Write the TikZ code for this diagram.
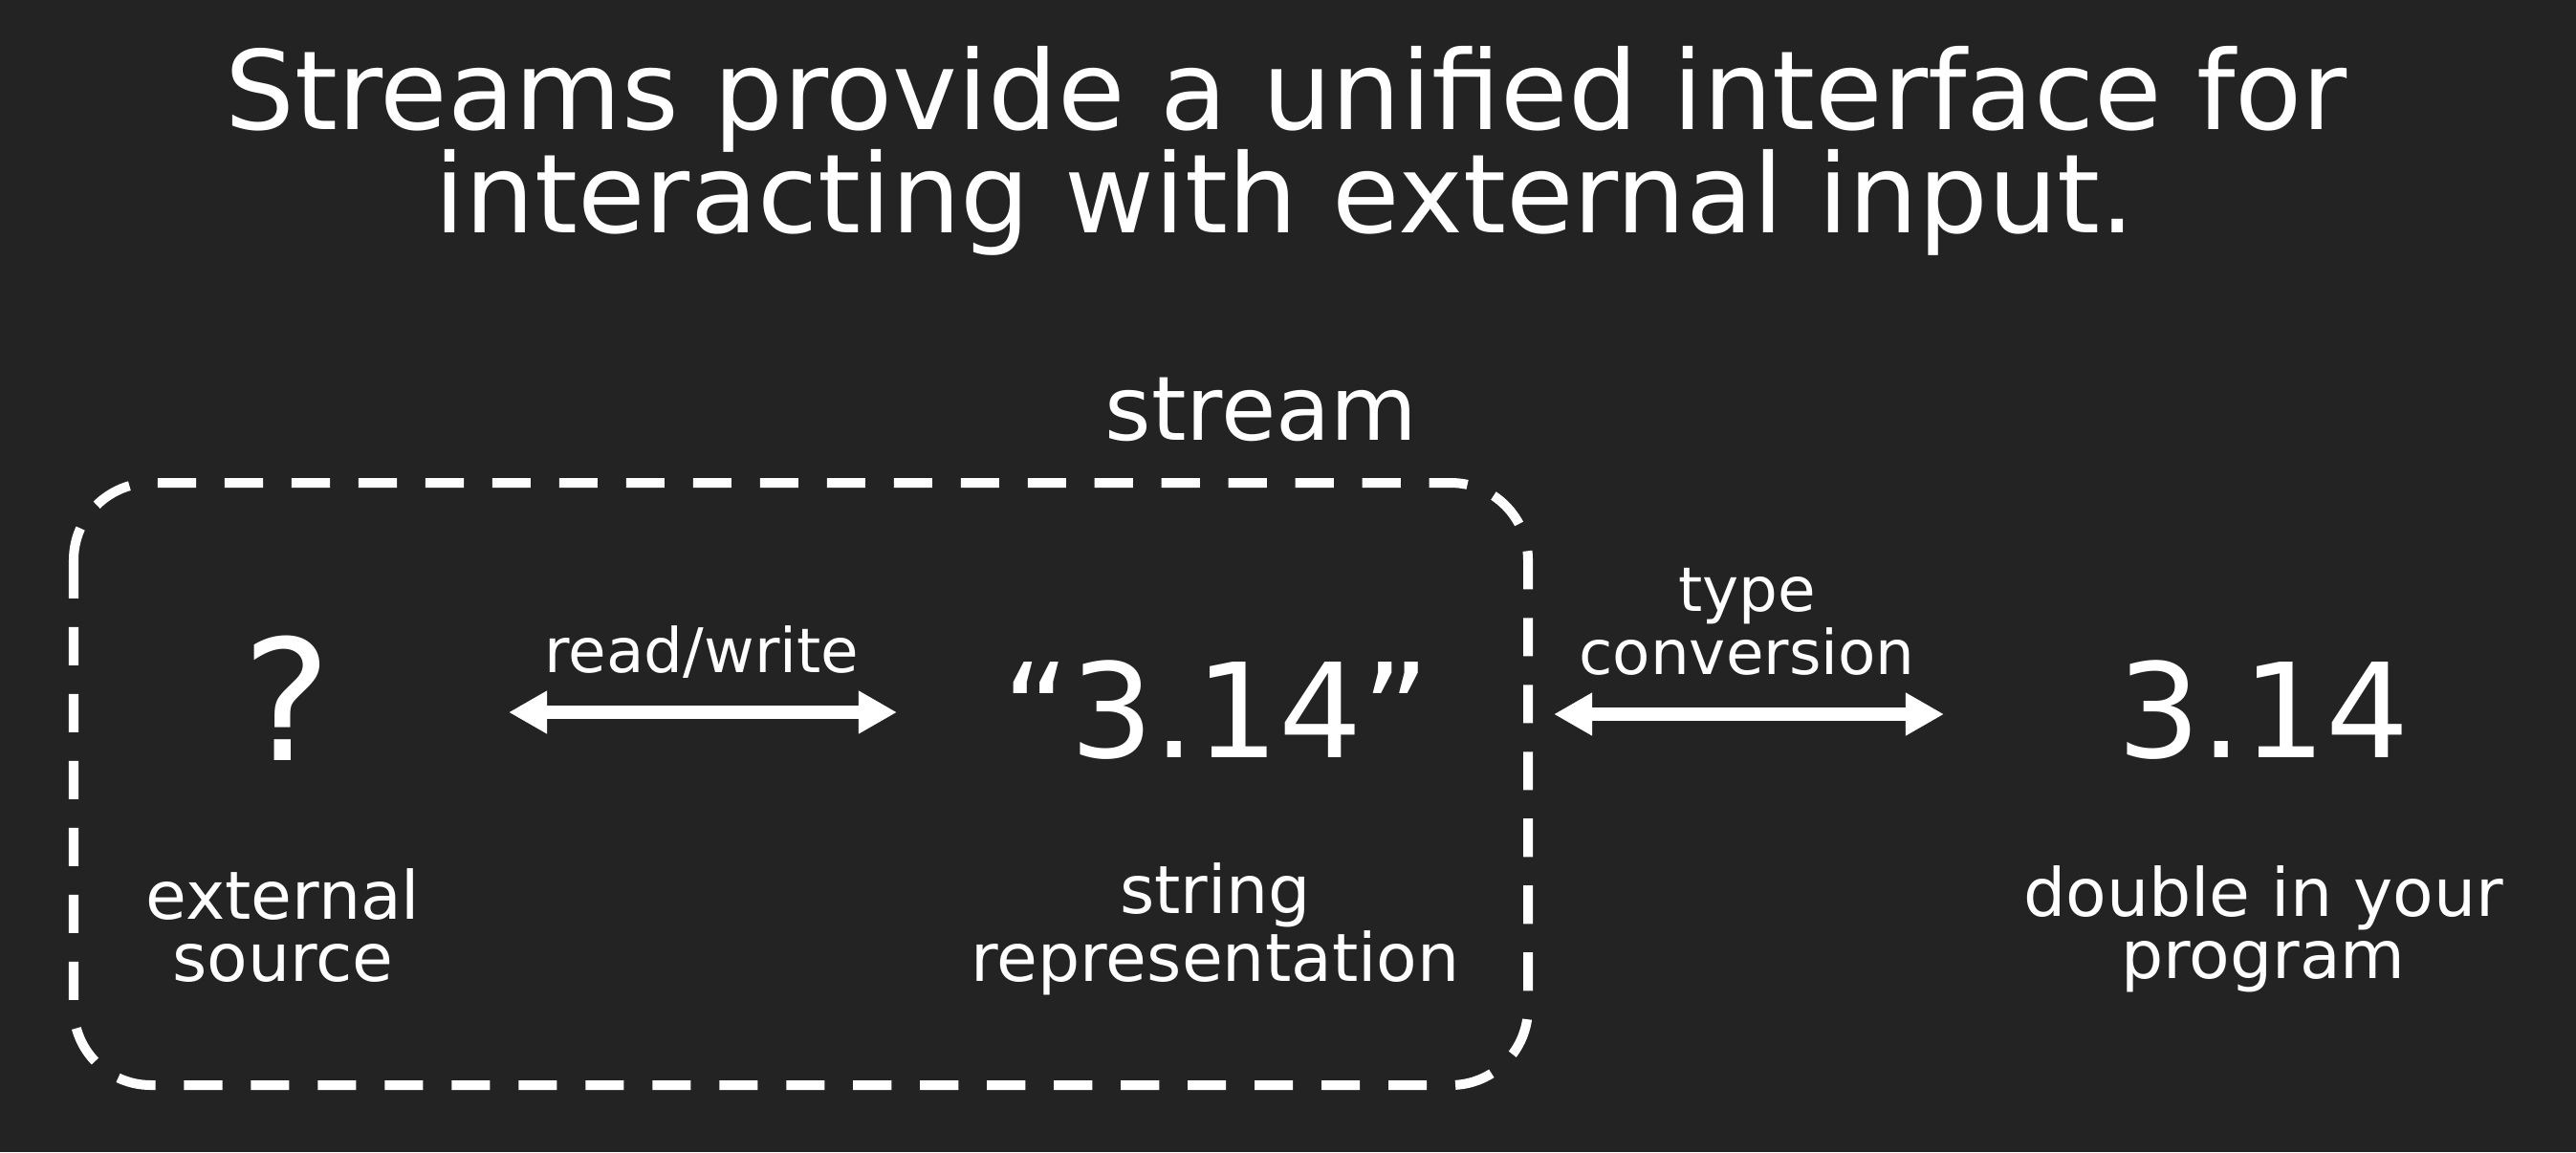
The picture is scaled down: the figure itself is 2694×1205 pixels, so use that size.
\documentclass[tikz,border=0pt]{standalone}
\usepackage{fontspec}
\setmainfont{DejaVu Sans}
\usetikzlibrary{arrows.meta}
\definecolor{bg}{HTML}{232323}
\begin{document}
\begin{tikzpicture}[x=0.01cm,y=-0.01cm,
  txt/.style={text=white,inner sep=0pt,align=center},
  title/.style={txt,anchor=base,font=\fontsize{32.6}{36}\selectfont},
  big/.style={txt,anchor=base,font=\fontsize{39}{44}\selectfont},
  caption/.style={txt,font=\fontsize{19.8}{18.5}\selectfont},
  small/.style={txt,font=\fontsize{18.3}{18.5}\selectfont},
  box/.style={draw=white,line width=2.85pt,dash pattern=on 11.4pt off 8.5pt,rounded corners=23pt},
  dbl/.style={draw=white,line width=4.2pt,{Triangle[length=11.4pt,width=12pt]}-{Triangle[length=11.4pt,width=12pt]}}]
  \fill[bg] (0,0) rectangle (2694,1205);
  \useasboundingbox (0,0) rectangle (2694,1205);

  % heading
  \node[title] (head1) at (1345,135) {Streams provide a unified interface for};
  \node[title] (head2) at (1344,243) {interacting with external input.};

  % the stream boundary
  \draw[box] (77,505) rectangle (1598,1135);
  \node[txt,anchor=base,font=\fontsize{26.5}{30}\selectfont] (lab) at (1319,460) {stream};

  % contents
  \node[txt,anchor=base,font=\fontsize{50}{50}\selectfont] (q) at (300,795) {?};
  \node[caption] (src) at (296,968) {external\\source};

  \node[big] (str) at (1272,792) {“3.14”};
  \node[caption] (rep) at (1271,972) {string\\representation};

  \node[big] (num) at (2367,792) {3.14};
  \node[caption] (dbl) at (2367,972) {double in your\\program};

  % conversions
  \coordinate (rw1) at (532,745);
  \coordinate (rw2) at (938,745);
  \draw[dbl] (rw1) -- (rw2);
  \node[small,anchor=base] (rwl) at (734,703) {read/write};

  \coordinate (tc1) at (1625,747);
  \coordinate (tc2) at (2033,747);
  \draw[dbl] (tc1) -- (tc2);
  \node[small,anchor=base] (tcl) at (1827,705) {type\\conversion};
\end{tikzpicture}
\end{document}
